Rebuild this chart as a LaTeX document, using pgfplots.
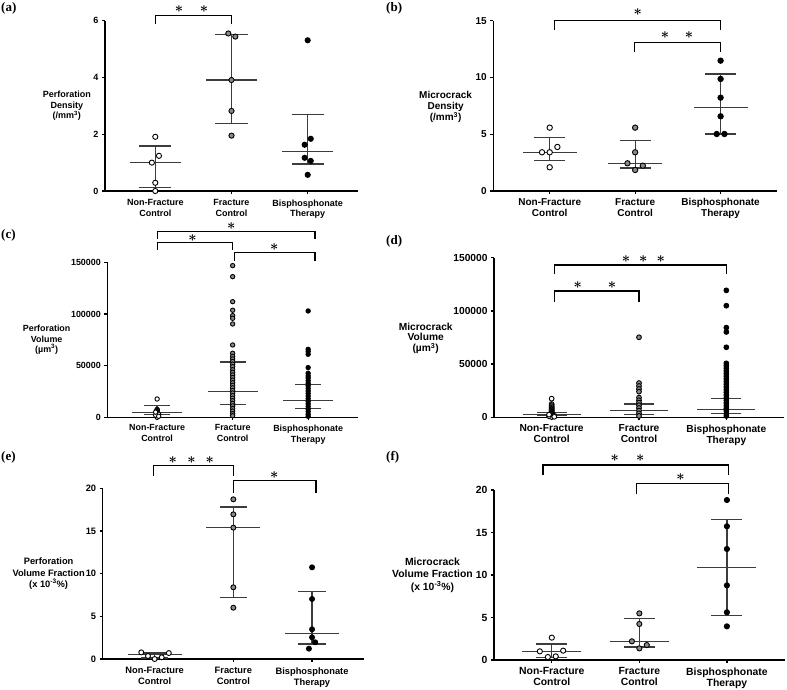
\documentclass[border=0pt]{standalone}
\usepackage{fontspec}
\setmainfont{Liberation Sans}
\newfontfamily\serifb{Liberation Serif}
\usepackage{pgfplots}
\pgfplotsset{compat=1.18}
\definecolor{barc}{HTML}{3C3C3C}
\definecolor{fcg}{HTML}{8A8A8A}
\pgfplotsset{
  panel/.style={scale only axis, anchor=south west, axis lines=left,
    axis line style={-, line width=1.5pt, black},
    xmin=-0.66, xmax=2.66, ymin=0, xtick={0,1,2}, tick align=outside,
    major tick length=3pt, tick style={line width=1.3pt, black},
    xticklabel style={align=center}, clip=false, scaled y ticks=false,
    /pgf/number format/assume math mode=true,
    xticklabels={{Non-Fracture\\Control},{Fracture\\Control},{Bisphosphonate\\Therapy}}},
  nfc/.style={only marks, mark=*, mark size=#1, mark options={fill=white, draw=black, line width=0.9pt}},
  fcp/.style={only marks, mark=*, mark size=#1, mark options={fill=fcg, draw=black, line width=0.9pt}},
  btp/.style={only marks, mark=*, mark size=#1, mark options={fill=black, draw=black, line width=0.9pt}},
  med/.style 2 args={only marks, mark=-, mark size=#1, mark options={solid, line width=1.3pt, draw=barc},
    error bars/.cd, y dir=both, y explicit, error bar style={line width=1.3pt, draw=barc},
    error mark=|, error mark options={mark size=#2, line width=1.3pt, draw=barc}},
  brk/.style={black, line width=1.1pt, mark=none},
}
\newcommand{\st}{{\boldmath$\ast$}}
\tikzset{star/.style={inner sep=0pt, font=\fontsize{14}{14}\selectfont}}
\begin{document}
\begin{tikzpicture}
\useasboundingbox (0pt,0pt) rectangle (787pt,-690pt);
\tikzset{plab/.style={anchor=west, inner sep=0pt, font=\serifb\bfseries\fontsize{13}{13}\selectfont}}
\node[plab] at (1pt,-8pt) {(a)};
\node[plab] at (386pt,-8pt) {(b)};
\node[plab] at (1pt,-235pt) {(c)};
\node[plab] at (386pt,-241pt) {(d)};
\node[plab] at (1pt,-457pt) {(e)};
\node[plab] at (386pt,-457pt) {(f)};

% (a)
\begin{axis}[panel, at={(105pt,-191pt)}, width=253pt, height=170.3pt, ymax=6, ytick={0,2,4,6},
  tick label style={font=\bfseries\fontsize{9}{10.7}\selectfont}, xticklabel style={yshift=-2pt}]
\addplot[med={25.5pt}{16pt}] coordinates {(0,1.0) += (0,0.59) -= (0,0.87) (1,3.91) += (0,1.60) -= (0,1.52) (2,1.38) += (0,1.32) -= (0,0.43)};
\addplot[nfc=2.6pt] coordinates {(0,1.91) (0.048,1.24) (-0.045,1.0) (0,0.29) (0,0.0)};
\addplot[fcp=2.6pt] coordinates {(0.958,5.55) (1.05,5.44) (1,3.91) (1,2.82) (1,1.95)};
\addplot[btp=2.6pt] coordinates {(2,5.31) (2.04,1.84) (1.96,1.63) (1.96,1.17) (2.04,1.06) (2,0.57)};
\addplot[brk] coordinates {(0,5.88) (0,6.19) (1,6.19) (1,5.88)};
\node[star] at (axis cs:0.31,6.42) {\st};
\node[star] at (axis cs:0.64,6.42) {\st};
\node[align=center, font=\bfseries\fontsize{9}{10.7}\selectfont] at (rel axis cs:-0.151,0.5) {Perforation\\Density\\(/mm\textsuperscript{3})};
\end{axis}

% (b)
\begin{axis}[panel, at={(493.3pt,-191pt)}, width=283.7pt, height=170.3pt, ymax=15, ytick={0,5,10,15},
  tick label style={font=\bfseries\fontsize{10}{10.8}\selectfont}, xticklabel style={yshift=-1pt}]
\addplot[med={27pt}{15.5pt}] coordinates {(0,3.41) += (0,1.32) -= (0,0.71) (1,2.44) += (0,2.03) -= (0,0.41) (2,7.37) += (0,2.94) -= (0,2.35)};
\addplot[nfc=2.7pt] coordinates {(0,5.58) (0.09,3.88) (-0.09,3.41) (0,3.41) (0,2.09)};
\addplot[fcp=2.7pt] coordinates {(1,5.58) (1,3.41) (0.91,2.44) (1.09,2.23) (1,1.85)};
\addplot[btp=2.7pt] coordinates {(2,11.48) (2,9.87) (2,8.22) (2,6.58) (1.955,5.02) (2.045,5.02)};
\addplot[brk] coordinates {(0.06,14.18) (0.06,15) (2,15) (2,14.18)};
\addplot[brk] coordinates {(0.99,12.27) (0.99,13.1) (2,13.1) (2,12.27)};
\node[star] at (axis cs:1.03,15.8) {\st};
\node[star] at (axis cs:1.35,13.74) {\st};
\node[star] at (axis cs:1.63,13.74) {\st};
\node[align=center, font=\bfseries\fontsize{10}{11.3}\selectfont] at (rel axis cs:-0.168,0.493) {Microcrack\\Density\\(/mm\textsuperscript{3})};
\end{axis}

% (c)
\begin{axis}[panel, at={(107.3pt,-417.3pt)}, width=250.7pt, height=155pt, ymax=150000,
  ytick={0,50000,100000,150000}, yticklabels={0,50000,100000,150000},
  tick label style={font=\bfseries\fontsize{8.9}{10.8}\selectfont}, xticklabel style={yshift=-1pt}]
\addplot[med={25pt}{13pt}] coordinates {(0,4500) += (0,7100) -= (0,1900) (1,24800) += (0,28800) -= (0,12200) (2,16100) += (0,15800) -= (0,7400)};
\addplot[nfc=2.2pt] coordinates {(0,17700) (0,7600) (0,7200) (0,6800) (0,6400) (0,6000) (0,5600) (0,5200) (0,4800) (0,4400) (0,4000) (0,3600) (0,3200) (0,2800) (0,2400) (0,2000) (0,1600) (0,1200) (0,800) (0,400) (0,100) (0.02,3000) (-0.02,2000) (0.02,1000) (-0.02,5000)};
\addplot[fcp=2.2pt] coordinates {(1,146800) (1,136100) (1,111900) (1,103600) (1,98400) (1,95800) (1,90300) (1,70000) (1,62000) (1,59000) (1,56500) (1,54000) (1,51500) (1,49000) (1,46000) (1,43500) (1,41000) (1,38500) (1,36000) (1,33500) (1,31000) (1,28500) (1,26000) (1,23500) (1,21000) (1,18500) (1,16000) (1,13500) (1,11000) (1,8500) (1,6000) (1,3500) (1,1500)};
\addplot[btp=2.2pt] coordinates {(2,102900) (2,65800) (2,63600) (2,61000) (2,48100) (2,42600) (2,40000) (2,38000) (2,35500) (2,33000) (2,30500) (2,28000) (2,25500) (2,23000) (2,20500) (2,18000) (2,15500) (2,13000) (2,10500) (2,8000) (2,5500) (2,3000) (2,1000)};
\addplot[brk] coordinates {(0,172500) (0,179600) (2.09,179600) (2.09,172500)};
\addplot[brk] coordinates {(0,161900) (0,169000) (1,169000) (1,161900)};
\addplot[brk] coordinates {(1.03,151500) (1.03,159300) (2.09,159300) (2.09,151500)};
\node[star] at (axis cs:0.98,185100) {\st};
\node[star] at (axis cs:0.47,173200) {\st};
\node[star] at (axis cs:1.55,164500) {\st};
\node[align=center, font=\bfseries\fontsize{8.9}{10.5}\selectfont] at (rel axis cs:-0.242,0.5) {Perforation\\Volume\\(µm\textsuperscript{3})};
\end{axis}

% (d)
\begin{axis}[panel, at={(494pt,-417.3pt)}, width=290pt, height=159.6pt, ymax=150000,
  ytick={0,50000,100000,150000}, yticklabels={0,50000,100000,150000},
  tick label style={font=\bfseries\fontsize{10.2}{10.8}\selectfont}, xticklabel style={yshift=-1pt}]
\addplot[med={29pt}{15pt}] coordinates {(0,2800) += (0,1600) -= (0,1200) (1,6300) += (0,6200) -= (0,3500) (2,7500) += (0,10400) -= (0,4100)};
\addplot[nfc=2.4pt] coordinates {(0,17500) (0,12500) (0,11500) (0,10500) (0,9500) (0,8700) (0,8000) (0,7300) (0,6600) (0,6000) (0,5400) (0,4800) (0,4200) (0,3600) (0,3000) (0,2500) (0,2000) (0,1500) (0,1000) (0,600) (0,200) (0.03,1500) (-0.03,1000) (0.03,500) (-0.03,2500)};
\addplot[fcp=2.4pt] coordinates {(1,75200) (1,32200) (1,29400) (1,26600) (1,24100) (1,18500) (1,16000) (1,13800) (1,11300) (1,8800) (1,6300) (1,3800) (1,1300)};
\addplot[btp=2.4pt] coordinates {(2,119300) (2,104900) (2,84300) (2,80200) (2,65800) (2,50700) (2,48500) (2,46000) (2,43500) (2,41000) (2,38500) (2,36000) (2,33500) (2,31000) (2,28500) (2,26000) (2,23500) (2,21000) (2,18500) (2,16000) (2,13500) (2,11000) (2,8500) (2,6000) (2,3500) (2,1200)};
\addplot[brk] coordinates {(0.035,134400) (0.035,143100) (2,143100) (2,134400)};
\addplot[brk] coordinates {(0.035,108600) (0.035,118700) (1,118700) (1,108600)};
\node[star] at (axis cs:0.85,148500) {\st};
\node[star] at (axis cs:1.05,148500) {\st};
\node[star] at (axis cs:1.25,148500) {\st};
\node[star] at (axis cs:0.30,124300) {\st};
\node[star] at (axis cs:0.69,124300) {\st};
\node[align=center, font=\bfseries\fontsize{10.2}{10.7}\selectfont] at (rel axis cs:-0.2355,0.495) {Microcrack\\Volume\\(µm\textsuperscript{3})};
\end{axis}

% (e)
\begin{axis}[panel, at={(102.7pt,-659pt)}, width=261.3pt, height=170.7pt, ymax=20, ytick={0,5,10,15,20},
  tick label style={font=\bfseries\fontsize{9.3}{11}\selectfont}, xticklabel style={yshift=-2pt}]
\addplot[med={27pt}{13.7pt}] coordinates {(0,0.5) += (0,0.22) -= (0,0.38) (1,15.39) += (0,2.42) -= (0,8.16) (2,3.01) += (0,4.92) -= (0,1.25)};
\addplot[nfc=2.5pt] coordinates {(-0.17,0.78) (-0.085,0.35) (0.09,0.2) (0.18,0.70) (0,0.0)};
\addplot[fcp=2.5pt] coordinates {(1,18.71) (1,16.95) (1,15.39) (1,8.40) (1,6.01)};
\addplot[btp=2.5pt] coordinates {(2,10.74) (2,7.03) (2,3.48) (2,2.54) (2.04,1.96) (1.96,1.21)};
\addplot[brk] coordinates {(-0.02,21.44) (-0.02,22.65) (1,22.65) (1,21.44)};
\addplot[brk] coordinates {(1,19.48) (1,20.89) (2.05,20.89) (2.05,19.48)};
\node[star] at (axis cs:0.23,23.3) {\st};
\node[star] at (axis cs:0.47,23.3) {\st};
\node[star] at (axis cs:0.70,23.3) {\st};
\node[star] at (axis cs:1.52,21.56) {\st};
\node[align=center, font=\bfseries\fontsize{9.3}{11.7}\selectfont] at (rel axis cs:-0.207,0.5) {Perforation\\Volume Fraction\\(x 10\textsuperscript{-3}\%)};
\end{axis}

% (f)
\begin{axis}[panel, at={(494pt,-660pt)}, width=290.7pt, height=170pt, ymax=20, ytick={0,5,10,15,20},
  tick label style={font=\bfseries\fontsize{10.4}{11.3}\selectfont}, xticklabel style={yshift=-1pt}]
\addplot[med={29.5pt}{15.5pt}] coordinates {(0,1.02) += (0,0.86) -= (0,0.71) (1,2.16) += (0,2.70) -= (0,0.63) (2,10.9) += (0,5.61) -= (0,5.68)};
\addplot[nfc=2.6pt] coordinates {(0,2.63) (-0.137,1.02) (0.13,1.10) (-0.045,0.35) (0.045,0.43)};
\addplot[fcp=2.6pt] coordinates {(1,5.49) (1,4.24) (0.915,2.2) (1.085,1.76) (1,1.37)};
\addplot[btp=2.6pt] coordinates {(2,18.82) (2,15.73) (2,13.06) (2,8.78) (2,5.61) (2,3.96)};
\addplot[brk] coordinates {(-0.10,21.76) (-0.10,22.94) (2.02,22.94) (2.02,21.76)};
\addplot[brk] coordinates {(0.97,19.49) (0.97,20.79) (2.02,20.79) (2.02,19.49)};
\node[star] at (axis cs:0.72,23.76) {\st};
\node[star] at (axis cs:1.01,23.76) {\st};
\node[star] at (axis cs:1.47,21.53) {\st};
\node[align=center, font=\bfseries\fontsize{10.4}{12.5}\selectfont] at (rel axis cs:-0.2116,0.5) {Microcrack\\Volume Fraction\\(x 10\textsuperscript{-3}\%)};
\end{axis}
\end{tikzpicture}
\end{document}
